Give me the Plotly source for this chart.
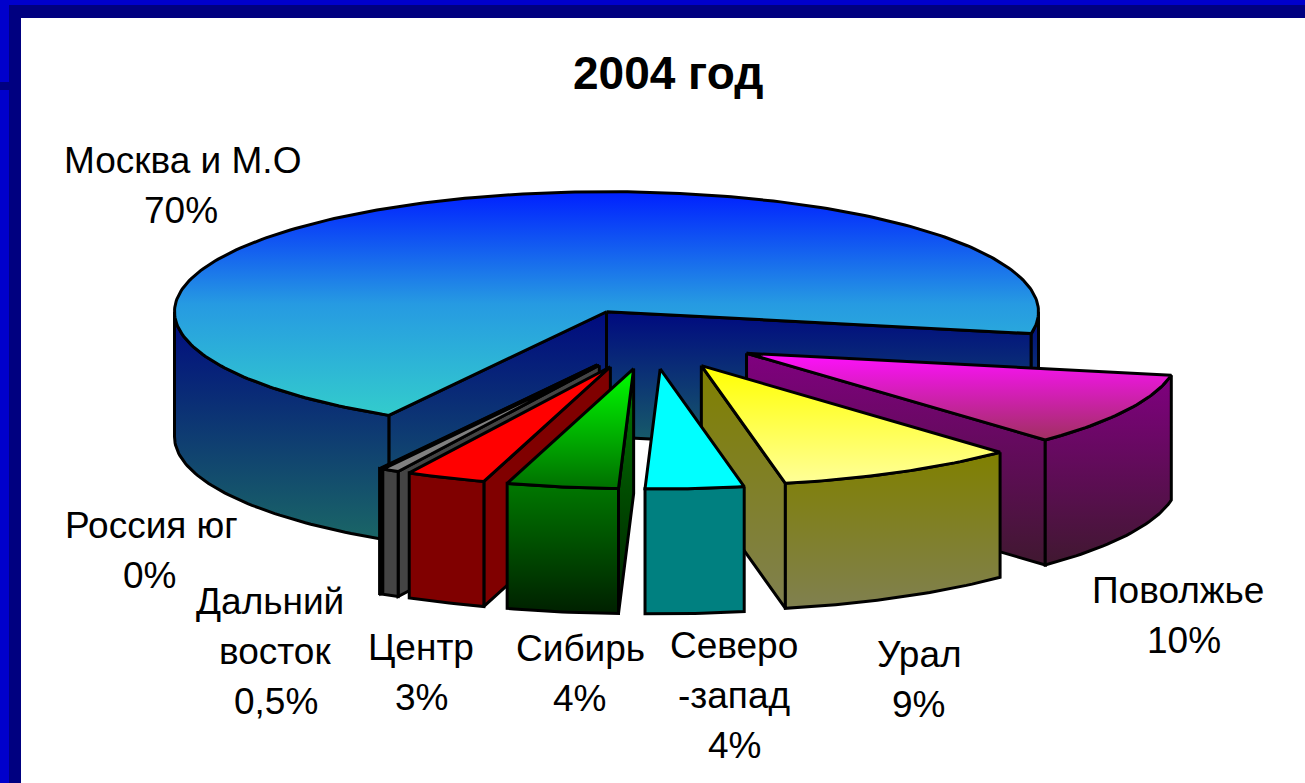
import math
import plotly.graph_objects as go

# ---------- data ----------
CATEGORIES = ["Поволжье", "Урал", "Северо-запад", "Сибирь", "Центр",
              "Дальний восток", "Россия юг", "Москва и М.О"]
VALUES = [10, 9.1, 3.7, 4.2, 3, 0.65, 0.05, 70]
TITLE = "2004 год"
LABEL_LINES = [["Поволжье", "10%"], ["Урал", "9%"], ["Северо", "-запад", "4%"],
               ["Сибирь", "4%"], ["Центр", "3%"], ["Дальний", "восток", "0,5%"],
               ["Россия юг", "0%"], ["Москва и М.О", "70%"]]

# ---------- style / layout ----------
LABEL_X = [(1178, 1184), (919, 918), (734, 734, 734), (580, 579), (421, 421),
           (270, 275, 276), (151, 149), (182, 181)]
LABEL_Y = [590, 654, 645, 648, 647, 601, 525, 160]
LINE_STEP = 50
TOP_COLORS = [("#FF10FF", "#A03060"), ("#FFFF00", "#FFFF99"), ("#00FFFF", "#00FFFF"),
              ("#00FF00", "#006F00"), ("#FF0000", "#FF0000"), ("#808080", "#808080"),
              ("#808080", "#808080"), ("#0020FF", "#269AE2", "#33CCCC")]
SIDE_COLORS = [("#800080", "#401830"), ("#808000", "#808050"), ("#008080", "#008080"),
               ("#007800", "#002000"), ("#800000", "#800000"), ("#444444", "#444444"),
               ("#444444", "#444444"), ("#000A80", "#1A6666")]
W, H = 1305, 783
CX, CY = 651.5, 339
RX, RY = 432, 120
DEPTH = 125
EXPLODE = 0.25
START = 10.5
LW = 3

fig = go.Figure()


def add_poly(pts, colors):
    xs = [p[0] for p in pts] + [pts[0][0]]
    ys = [p[1] for p in pts] + [pts[0][1]]
    kw = {}
    if len(set(colors)) == 1:
        kw["fillcolor"] = colors[0]
    else:
        n = len(colors) - 1
        kw["fillgradient"] = dict(type="vertical", start=min(ys), stop=max(ys),
                                  colorscale=[[k / n, c] for k, c in enumerate(colors)])
    fig.add_trace(go.Scatter(x=xs, y=ys, mode="lines", fill="toself",
                             line=dict(color="black", width=LW, shape="linear"),
                             hoverinfo="skip", showlegend=False, **kw))


def arc(ox, oy, a0, a1, dz=0.0):
    n = max(2, int(abs(a1 - a0)) + 2)
    out = []
    for i in range(n):
        a = math.radians(a0 + (a1 - a0) * i / (n - 1))
        out.append((ox + RX * math.cos(a), oy + RY * math.sin(a) + dz))
    return out


total = sum(VALUES)
slices = []
ang = START
for i, v in enumerate(VALUES):
    a0, a1 = ang, ang + v / total * 360
    slices.append((i, a0, a1))
    ang = a1


def mid_dist(s):
    m = (s[1] + s[2]) / 2 % 360
    d = abs(m - 90)
    return min(d, 360 - d)


for i, a0, a1 in sorted(slices, key=mid_dist, reverse=True):
    m = math.radians((a0 + a1) / 2)
    ox = CX + EXPLODE * RX * math.cos(m)
    oy = CY + EXPLODE * RY * math.sin(m)
    side = SIDE_COLORS[i]
    # radial walls
    for a, visible in ((a0, math.cos(math.radians(a0)) < 0),
                       (a1, math.cos(math.radians(a1)) > 0)):
        if visible:
            e = arc(ox, oy, a, a, 0)[0]
            add_poly([(ox, oy), e, (e[0], e[1] + DEPTH), (ox, oy + DEPTH)], side)
    # outer rim, only the part that faces the viewer
    for lo, hi in ((0, 180), (360, 540)):
        b0, b1 = max(a0, lo), min(a1, hi)
        if b1 > b0:
            add_poly(arc(ox, oy, b0, b1) + arc(ox, oy, b1, b0, DEPTH), side)
    # top face
    add_poly([(ox, oy)] + arc(ox, oy, a0, a1), TOP_COLORS[i])

ann = [dict(x=668, y=73, text=TITLE, showarrow=False, xref="x", yref="y",
            font=dict(family="Liberation Sans", size=46, color="black", weight="bold"))]
for lines, xs_, ly in zip(LABEL_LINES, LABEL_X, LABEL_Y):
    for k, (t, lx) in enumerate(zip(lines, xs_)):
        ann.append(dict(x=lx, y=ly + k * LINE_STEP, text=t, showarrow=False,
                        xref="x", yref="y",
                        font=dict(family="Liberation Sans", size=37, color="black")))

frame = [
    dict(type="rect", x0=0, x1=W, y0=0, y1=5, fillcolor="#0000CC", line_width=0, layer="below"),
    dict(type="rect", x0=0, x1=9, y0=0, y1=H, fillcolor="#0000CC", line_width=0, layer="below"),
    dict(type="rect", x0=9, x1=W, y0=5, y1=18, fillcolor="#000080", line_width=0, layer="below"),
    dict(type="rect", x0=9, x1=21, y0=5, y1=H, fillcolor="#000080", line_width=0, layer="below"),
    dict(type="rect", x0=0, x1=9, y0=82, y1=90, fillcolor="#000080", line_width=0, layer="below"),
]

fig.update_layout(
    width=W, height=H, margin=dict(l=0, r=0, t=0, b=0),
    paper_bgcolor="white", plot_bgcolor="white", showlegend=False,
    xaxis=dict(range=[0, W], visible=False, fixedrange=True),
    yaxis=dict(range=[H, 0], visible=False, fixedrange=True),
    annotations=ann, shapes=frame,
)
fig.write_html("out.html", config={"displayModeBar": False},
               post_script="document.body.style.margin='0';document.documentElement.style.overflow='hidden';")
